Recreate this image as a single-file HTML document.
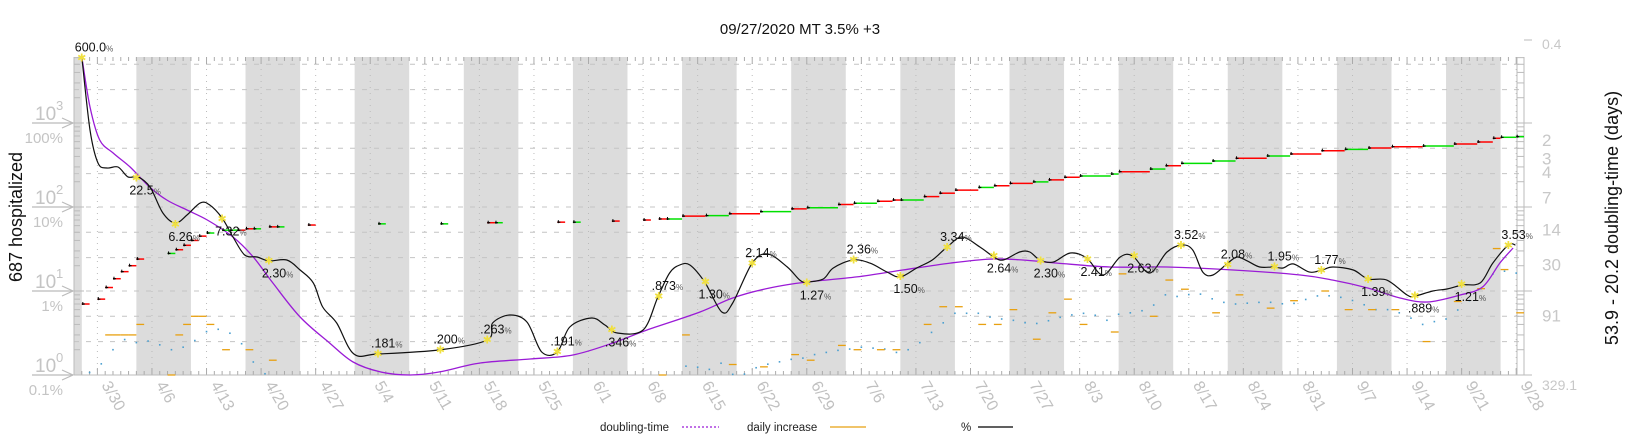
<!DOCTYPE html>
<html><head><meta charset="utf-8"><style>
html,body{margin:0;padding:0;background:#fff;}
svg{display:block;font-family:"Liberation Sans","DejaVu Sans",sans-serif;}
</style></head><body>
<svg id="chart" width="1640" height="440" viewBox="0 0 1640 440" xmlns="http://www.w3.org/2000/svg">
<text x="800" y="34" text-anchor="middle" font-size="15" fill="#111">09/27/2020 MT 3.5% +3</text>
<text transform="translate(22,217) rotate(-90)" text-anchor="middle" font-size="18" fill="#111">687 hospitalized</text>
<text transform="translate(1618,218) rotate(-90)" text-anchor="middle" font-size="18" fill="#111">53.9 - 20.2 doubling-time (days)</text>
<g>
<text x="600" y="431" font-size="11.5" fill="#222">doubling-time</text>
<line x1="682" y1="427" x2="719" y2="427" stroke="#9a1bd6" stroke-width="1.3" stroke-dasharray="2,2"/>
<text x="747" y="431" font-size="11.5" fill="#222">daily increase</text>
<line x1="830" y1="427" x2="866" y2="427" stroke="#e8a010" stroke-width="1.3"/>
<text x="961" y="431" font-size="11.5" fill="#222">%</text>
<line x1="978" y1="427" x2="1013" y2="427" stroke="#000" stroke-width="1.3"/>
</g>
<g id="plot"></g>
</svg>
<script>
// ---- data ----
const hospDays=[1,3,4,5,6,7,8,12,13,14,15,16,17,19,20,21,22,23,25,26,30,39,47,53,54,62,64,69,73,75,76,78,81,84,88,92,94,98,100,103,105,106,109,111,113,116,118,120,123,125,127,129,133,134,138,140,142,146,149,153,156,160,163,166,169,173,177,180,182,183,185];
const hospVals=[7,8,11,14,17,20,24,28,31,35,40,45,49,53,53,53,55,55,58,58,61,63,63,65,65,66,66,68,70,72,72,78,79,83,88,95,98,107,111,117,121,121,133,146,159,171,179,191,199,210,226,234,247,263,283,310,331,353,380,405,428,468,486,504,522,532,562,594,658,676,687];
const pctDays=[1,2.05,3.08,4.23,5.64,6.93,8.21,9.75,11.4,13,14.5,16.2,17.4,19,20.4,21.9,23.5,25,27.3,29,30.7,31.9,33.7,35.9,39,46.9,53,53.7,55.9,58.1,60,62,63.6,66.4,68.1,69.7,73,74.9,76.4,77.7,79,80.9,83.1,84.5,87,89,91.5,93.1,94,96.1,97.4,99.9,102.1,104.3,106,108.1,110.1,112,113.9,116.2,118,119.2,121.3,122.6,123.9,125.6,127.8,129.9,132,134.2,135.8,138,140.2,142.1,143.5,144.8,146.1,148,149.2,150.5,152.1,153.8,155.1,156.4,158.5,160.1,161.5,164.1,166,168.4,171,172,174.3,176.2,178.1,180.4,182,184,184.9];
const pctVals=[611,82.6,33.4,29.1,29.9,22.8,22.8,17.3,8.48,6.45,8.03,11.2,10.6,7.39,4.39,2.68,2.54,2.28,2.34,1.78,1.25,0.645,0.416,0.178,0.178,0.199,0.261,0.416,0.518,0.428,0.188,0.188,0.373,0.477,0.394,0.316,0.343,0.849,1.64,2.04,2.04,1.28,0.562,0.72,2.15,2.76,1.93,1.35,1.28,1.39,1.88,2.34,2.15,1.68,1.47,1.88,2.34,3.34,4.39,3.34,2.54,2.34,2.91,2.91,2.34,2.21,2.83,2.47,1.55,2.54,2.61,1.64,2.91,3.53,3.08,1.68,1.55,2.15,2.54,2.28,1.93,1.93,1.88,2.10,1.68,1.78,1.93,1.78,1.39,1.35,0.896,0.87,1.0,1.06,1.18,1.25,2.15,3.53,3.53];
const smoothDays=[1,2.05,3.3,5,7.2,9.7,11.9,14.5,17.1,20.4,23,25.5,29,32.8,35.8,39.3,43.1,46.9,52.1,58.5,64,69.1,73.5,80.3,84.5,89.3,94,100.4,106.3,112.4,117.5,121.7,126.1,132.9,140.2,148.7,157.3,161.5,165.9,170.1,173.6,177.8,180.7,182.9,184.6];
const smoothVals=[611,155,62.8,44,29.9,17.3,12.1,9.2,7.0,4.39,2.54,1.25,0.49,0.24,0.143,0.109,0.1,0.109,0.139,0.155,0.173,0.24,0.343,0.562,0.826,1.09,1.28,1.47,1.78,2.15,2.40,2.34,2.15,1.93,1.93,1.78,1.55,1.35,1.09,0.826,0.74,0.896,1.12,2.15,3.25];
const markDays=[1,8,13,19,25,39,47,53,62,69,75,81,87,94,100,106,112,118,124,130,136,142,148,154,160,166,172,178,184];
const markVals=[600,22.5,6.26,7.32,2.30,0.181,0.200,0.263,0.191,0.346,0.873,1.30,2.14,1.27,2.36,1.50,3.34,2.64,2.30,2.41,2.63,3.52,2.08,1.95,1.77,1.39,0.889,1.21,3.53];
const markAbove=[1,0,0,0,0,1,1,1,1,0,1,0,1,0,1,0,1,0,0,0,0,1,1,1,1,0,0,0,1];
const xTickLabels=['3/30','4/6','4/13','4/20','4/27','5/4','5/11','5/18','5/25','6/1','6/8','6/15','6/22','6/29','7/6','7/13','7/20','7/27','8/3','8/10','8/17','8/24','8/31','9/7','9/14','9/21','9/28'];
const countTicks=[1,10,100,1000];
const countTickLabels=['0','1','2','3'];
const pctTicks=[100,10,1,0.1];
const pctTickLabels=['100%','10%','1%','0.1%'];
const dtTicks=[2,3,4,7,14,30,91];
const dtTickLabels=['2','3','4','7','14','30','91'];

// ---- scales ----
const X0=74,X1=1524,Y0=57,Y1=375,NDAYS=186;
const x=d=>X0+d*(X1-X0)/NDAYS;
const yC=v=>375-84*Math.log10(v);
const yP=p=>291-84*Math.log10(p);
const yDt=t=>140+106*Math.log10(t/2);
const NS='http://www.w3.org/2000/svg';
const plot=document.getElementById('plot');
function mk(tag,attrs,parent){const e=document.createElementNS(NS,tag);for(const k in attrs)e.setAttribute(k,attrs[k]);(parent||plot).appendChild(e);return e;}
function crPath(pts){let d='M'+pts[0][0].toFixed(1)+','+pts[0][1].toFixed(1);
 for(let i=0;i<pts.length-1;i++){const p0=pts[Math.max(0,i-1)],p1=pts[i],p2=pts[i+1],p3=pts[Math.min(pts.length-1,i+2)];
  const c1=[p1[0]+(p2[0]-p0[0])/6,p1[1]+(p2[1]-p0[1])/6],c2=[p2[0]-(p3[0]-p1[0])/6,p2[1]-(p3[1]-p1[1])/6];
  d+=' C'+c1[0].toFixed(1)+','+c1[1].toFixed(1)+' '+c2[0].toFixed(1)+','+c2[1].toFixed(1)+' '+p2[0].toFixed(1)+','+p2[1].toFixed(1);}
 return d;}

for(let s=-6;s<NDAYS;s+=14){const a=Math.max(0,s),b=Math.min(NDAYS,s+7);if(b<=a)continue;
 const r=mk('rect',{x:x(a),y:Y0,width:x(b)-x(a),height:Y1-Y0,fill:'#dcdcdc'});
 
 }
for(let k=-1;k<=3;k++){[1,2.5,5].forEach(m=>{const y=yP(m*Math.pow(10,k));if(y<Y0||y>Y1-2)return;
 const l=mk('line',{x1:X0,x2:X1,y1:y,y2:y,stroke:'#c4c4c4','stroke-width':1,'stroke-dasharray':'5,7'});
 
 });}
for(let d=3;d<NDAYS;d+=7){const l=mk('line',{x1:x(d),x2:x(d),y1:Y0,y2:Y1,stroke:'#bbb','stroke-width':1,'stroke-dasharray':'1,5'});
 
 }
for(let d=0;d<=NDAYS;d++){const L=(d%7===3)?7:4;
 mk('line',{x1:x(d),x2:x(d),y1:Y0,y2:Y0+L,stroke:'#aaa','stroke-width':1});
 mk('line',{x1:x(d),x2:x(d),y1:Y1,y2:Y1-L,stroke:'#aaa','stroke-width':1});}
mk('line',{x1:X0,x2:X1,y1:Y1,y2:Y1,stroke:'#bbb','stroke-width':1});
mk('line',{x1:X0,x2:X0,y1:Y0,y2:Y1,stroke:'#bbb','stroke-width':1});
for(let k=0;k<4;k++)for(let m=1;m<10;m++){const y=yC(m*Math.pow(10,k));if(y<Y0)continue;
 mk('line',{x1:X0,x2:X0+(m===1?10:6),y1:y,y2:y,stroke:'#bbb','stroke-width':1});}
countTicks.forEach((v,i)=>{const y=yC(v);
 const g=mk('g',{});
 
 
 mk('line',{x1:32,x2:73,y1:y,y2:y,stroke:'#bbb','stroke-width':1.2},g);
 mk('polyline',{points:(62)+','+(y-5)+' 73,'+y+' 62,'+(y+5),fill:'none',stroke:'#bbb','stroke-width':1.2},g);
 const t=mk('text',{x:35,y:y-3,'font-size':19,fill:'#c4c4c4'},g);t.textContent='10';
 const s=mk('text',{x:56,y:y-13,'font-size':13,fill:'#c4c4c4'},g);s.textContent=countTickLabels[i];});
pctTicks.forEach((p,i)=>{const t=mk('text',{x:63,y:yP(p)+20,'font-size':15,fill:'#c4c4c4','text-anchor':'end'});
 t.textContent=pctTickLabels[i];
 
 });
mk('line',{x1:1517,x2:1517,y1:Y0,y2:Y1,stroke:'#bbb','stroke-width':1});
mk('line',{x1:1524,x2:1524,y1:Y0,y2:Y1,stroke:'#bbb','stroke-width':1});
for(let k=-1;k<=3;k++)for(let m=1;m<10;m++){const y=yP(m*Math.pow(10,k));if(y<Y0||y>Y1)continue;
 mk('line',{x1:1517,x2:m===1?1532:1524,y1:y,y2:y,stroke:'#bbb','stroke-width':1});}
dtTicks.forEach((t,i)=>{const e=mk('text',{x:1542,y:yDt(t)+6,'font-size':17,fill:'#c8c8c8'});
 e.textContent=dtTickLabels[i];
 
 });
{const e=mk('text',{x:1542,y:49,'font-size':14,fill:'#c8c8c8'});e.textContent='0.4';
 
 
 mk('line',{x1:1524,x2:1532,y1:40,y2:40,stroke:'#bbb'});
 const f=mk('text',{x:1542,y:390,'font-size':14,fill:'#c8c8c8'});f.textContent='329.1';
 
 }
xTickLabels.forEach((s,i)=>{const d=4+7*i;const t=mk('text',{transform:'translate('+(x(d)-4)+',385) rotate(60)','font-size':16,fill:'#c0c0c0'});
 t.textContent=s;
 
 });

const incDays=[],incVals=[];
for(let i=1;i<hospDays.length;i++){incDays.push(hospDays[i]);incVals.push((hospVals[i]-hospVals[i-1])/(hospDays[i]-hospDays[i-1]));}
function cumAt(t){if(t<=hospDays[0])return hospVals[0]*Math.max(0,t)/hospDays[0];
 for(let i=1;i<hospDays.length;i++)if(t<=hospDays[i]){const f=(t-hospDays[i-1])/(hospDays[i]-hospDays[i-1]);return hospVals[i-1]+f*(hospVals[i]-hospVals[i-1]);}
 return hospVals[hospVals.length-1];}
for(let t=0.5;t<=185;t+=1.5){const r=(cumAt(t)-cumAt(t-7))/7;if(r<=1)continue;
 const c=mk('rect',{x:x(t)-0.8,y:yC(r)-0.8,width:1.6,height:1.6,fill:'#4a9fd0'});
 
 }
incDays.forEach((d,i)=>{const v=incVals[i];if(v<1)return;
 const l=mk('line',{x1:x(d),x2:x(d+1),y1:yC(v),y2:yC(v),stroke:'#e8a010','stroke-width':1.3});
 
 });
{const pts=smoothDays.map((d,i)=>[x(d),yP(smoothVals[i])]);
 const p=mk('path',{d:crPath(pts),fill:'none',stroke:'#9a1bd6','stroke-width':1.3});
 
 }
{const pts=pctDays.map((d,i)=>[x(d),yP(pctVals[i])]);
 const p=mk('path',{d:crPath(pts),fill:'none',stroke:'#111','stroke-width':1.2});
 
 }
hospDays.forEach((d,i)=>{const v=hospVals[i];const nd=i<hospDays.length-1?hospDays[i+1]:d+1;
 const span=(d>=76&&nd-d<=4)?nd-d:1;
 const inc=i>0?(v-hospVals[i-1])/(d-hospDays[i-1]):0;const pinc=i>1?(hospVals[i-1]-hospVals[i-2])/(hospDays[i-1]-hospDays[i-2]):0;
 const col=inc>=pinc?'#ff0000':'#00e000';
 const l=mk('line',{x1:x(d),x2:x(d+span),y1:yC(v),y2:yC(v),stroke:col,'stroke-width':1.5});
 
 
 mk('line',{x1:x(d),x2:x(d)+3,y1:yC(v),y2:yC(v),stroke:'#000','stroke-width':1.2});
 mk('line',{x1:x(d)+1,x2:x(d)+1,y1:yC(v)-2,y2:yC(v)+1,stroke:'#000','stroke-width':1});});
function fmt(v){if(v>=10)return v.toFixed(1);if(v>=1)return v.toFixed(2);return v.toFixed(3).replace(/^0/,'');}
markDays.forEach((d,i)=>{const px=x(d),py=yP(markVals[i]);
 const m=mk('text',{x:px,y:py+4,'text-anchor':'middle','font-size':11,fill:'#f0e040','font-weight':'bold'});
 m.textContent='✱';
 
 
 const ty=markAbove[i]?py-6:py+17;
 const t=mk('text',{x:px-7,y:ty,'font-size':12.5,fill:'#111'});
 
 
 t.textContent=fmt(markVals[i]);
 const s=document.createElementNS(NS,'tspan');s.setAttribute('font-size','8');s.setAttribute('fill','#555');s.textContent='%';t.appendChild(s);});
</script>
</body></html>
